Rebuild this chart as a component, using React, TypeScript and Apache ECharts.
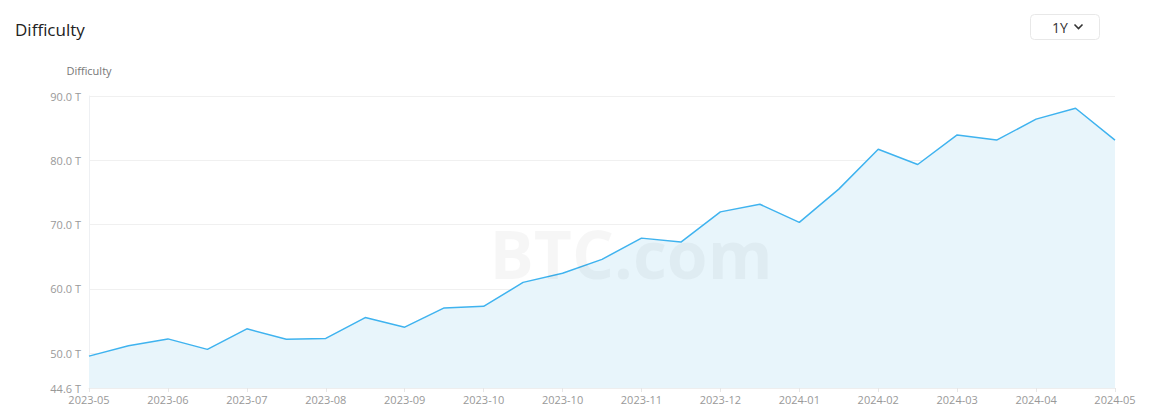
import React, { useEffect, useRef } from "react";
import * as echarts from "echarts";

const dates: string[] = [
  "2023-05-18", "2023-06-01", "2023-06-15", "2023-06-29", "2023-07-13",
  "2023-07-26", "2023-08-09", "2023-08-22", "2023-09-05", "2023-09-18",
  "2023-10-01", "2023-10-13", "2023-10-27", "2023-11-09", "2023-11-23",
  "2023-12-07", "2023-12-21", "2024-01-05", "2024-01-19", "2024-02-01",
  "2024-02-15", "2024-02-29", "2024-03-14", "2024-03-28", "2024-04-10",
  "2024-04-24", "2024-05-09",
];

// Difficulty in T
const difficulty: number[] = [
  49.55, 51.18, 52.23, 50.6, 53.8,
  52.17, 52.3, 55.55, 54.05, 57.05,
  57.3, 61.02, 62.45, 64.6, 67.9,
  67.28, 71.98, 73.17, 70.35, 75.52,
  81.73, 79.35, 83.95, 83.15, 86.4,
  88.1, 83.15,
];

const titleText = "Difficulty";
const axisName = "Difficulty";
const rangeLabel = "1Y";

export default function App() {
  const ref = useRef<HTMLDivElement>(null);
  useEffect(() => {
    if (!ref.current) return;
    const chart = echarts.init(ref.current, null, { renderer: "svg" });
    const minVal = Math.min(...difficulty) * 0.9;
    const font = "'Open Sans', 'Noto Sans', sans-serif";
    chart.setOption({
      animation: false,
      textStyle: { fontFamily: font },
      title: {
        text: titleText,
        left: 10,
        top: 16,
        textStyle: { fontSize: 17, fontWeight: "normal", color: "#222", fontFamily: font },
      },
      graphic: [
        {
          type: "rect",
          shape: { x: 1030.5, y: 14.5, width: 69, height: 25, r: 4 },
          style: { fill: "#fff", stroke: "#e8e8e8", lineWidth: 1 },
        },
        {
          type: "text",
          x: 1052,
          y: 27,
          style: { text: rangeLabel, fontSize: 14, fill: "#333", fontFamily: font, verticalAlign: "middle" },
        },
        {
          type: "polyline",
          shape: { points: [[1074.5, 24.5], [1078.5, 28.5], [1082.5, 24.5]] },
          style: { stroke: "#333", lineWidth: 1.6, fill: "none" },
        },
        {
          type: "text",
          x: 631,
          y: 253,
          z: 100,
          silent: true,
          style: {
            text: "BTC.com",
            fontSize: 66,
            fontWeight: "bold",
            fontFamily: "'Open Sans', sans-serif",
            fill: "rgba(0,0,0,0.035)",
            align: "center",
            verticalAlign: "middle",
          },
        },
      ],
      grid: { left: 89, right: 35, top: 96, bottom: 24, containLabel: false },
      xAxis: {
        type: "category",
        data: dates,
        boundaryGap: false,
        axisLine: { show: true, lineStyle: { color: "#eee" } },
        axisTick: { show: true, interval: 1, length: 4, lineStyle: { color: "#e6e6e6" } },
        axisLabel: {
          interval: 1,
          color: "#999",
          fontSize: 11,
          margin: 6,
          fontFamily: font,
          formatter: (v: string) => v.slice(0, 7),
        },
        splitLine: { show: false },
      },
      yAxis: {
        type: "value",
        name: axisName,
        nameLocation: "end",
        nameGap: 20,
        nameTextStyle: { color: "#777", fontSize: 11, align: "center", padding: [0, 0, 0, 0] },
        min: minVal,
        max: 90,
        splitNumber: 5,
        axisLine: { show: true, lineStyle: { color: "#eef0f3" } },
        axisTick: { show: false },
        axisLabel: {
          color: "#999",
          fontSize: 11,
          margin: 8,
          fontFamily: font,
          showMinLabel: true,
          formatter: (v: number) => v.toFixed(1) + " T",
        },
        splitLine: { show: true, lineStyle: { color: "#f0f0f0" } },
      },
      series: [
        {
          type: "line",
          data: difficulty,
          showSymbol: false,
          symbol: "none",
          lineStyle: { color: "#3fb3ef", width: 1.5 },
          itemStyle: { color: "#3fb3ef" },
          areaStyle: { color: "#e8f5fb", opacity: 1, origin: "start" },
        },
      ],
    });
    return () => chart.dispose();
  }, []);
  return (
    <div
      ref={ref}
      style={{ position: "absolute", left: 0, top: 0, width: 1150, height: 412, background: "#fff" }}
    />
  );
}
